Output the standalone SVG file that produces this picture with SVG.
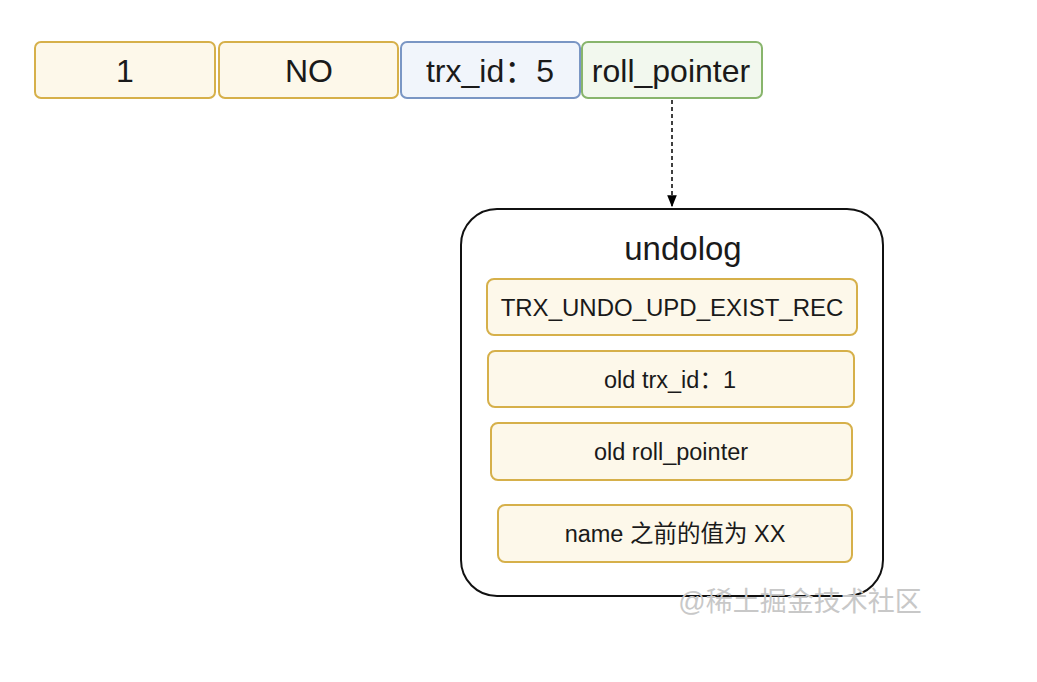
<svg xmlns="http://www.w3.org/2000/svg" width="1037" height="682" viewBox="0 0 1037 682">
<style>
text{font-family:"Liberation Sans",Arial,"Noto Sans CJK SC",sans-serif;fill:#1a1a1a;text-anchor:middle;dominant-baseline:central}
.y{fill:#fdf8ea;stroke:#d6b04a;stroke-width:2}
.b{fill:#f1f5fb;stroke:#7a96c4;stroke-width:2}
.g{fill:#f2f8ee;stroke:#88b56c;stroke-width:2}
.big{font-size:32px}
.mid{font-size:24px}
.sm{font-size:23.5px}
</style>
<defs>
<marker id="ah" viewBox="0 0 10 10" refX="9" refY="5" markerWidth="8" markerHeight="8" orient="auto">
<path d="M0,1 L10,5 L0,9 Z" fill="#000"/>
</marker>
</defs>
<rect width="1037" height="682" fill="#fff"/>
<g id="connectors">
<line x1="672" y1="100" x2="672" y2="206" stroke="#000" stroke-width="1.5" stroke-dasharray="4,3" marker-end="url(#ah)"/>
</g>
<g id="n-1"><rect class="y" x="35" y="42" width="180" height="56" rx="6"/><text class="big" x="125" y="71">1</text></g>
<g id="n-no"><rect class="y" x="219" y="42" width="179" height="56" rx="6"/><text class="big" x="309" y="71">NO</text></g>
<g id="n-trx"><rect class="b" x="401" y="42" width="179" height="56" rx="6"/><text class="big" x="490" y="71">trx_id：5</text></g>
<g id="n-roll"><rect class="g" x="582" y="42" width="180" height="56" rx="6"/><text class="big" x="671" y="71">roll_pointer</text></g>
<g id="undolog">
<rect x="461" y="209" width="422" height="387" rx="36" fill="#fff" stroke="#111" stroke-width="2"/>
<text x="683" y="248" style="font-size:33px">undolog</text>
</g>
<g id="u-type"><rect class="y" x="487" y="279" width="370" height="56" rx="7"/><text class="mid" x="672" y="307">TRX_UNDO_UPD_EXIST_REC</text></g>
<g id="u-trx"><rect class="y" x="488" y="351" width="366" height="56" rx="7"/><text class="sm" x="670" y="380">old trx_id：1</text></g>
<g id="u-roll"><rect class="y" x="491" y="423" width="361" height="57" rx="7"/><text class="sm" x="671" y="452">old roll_pointer</text></g>
<g id="u-name"><rect class="y" x="498" y="505" width="354" height="57" rx="7"/><text class="sm" x="675" y="534">name 之前的值为 XX</text></g>
<text x="800" y="602" style="font-size:27px;fill:#c8c8c8">@稀土掘金技术社区</text>
</svg>
